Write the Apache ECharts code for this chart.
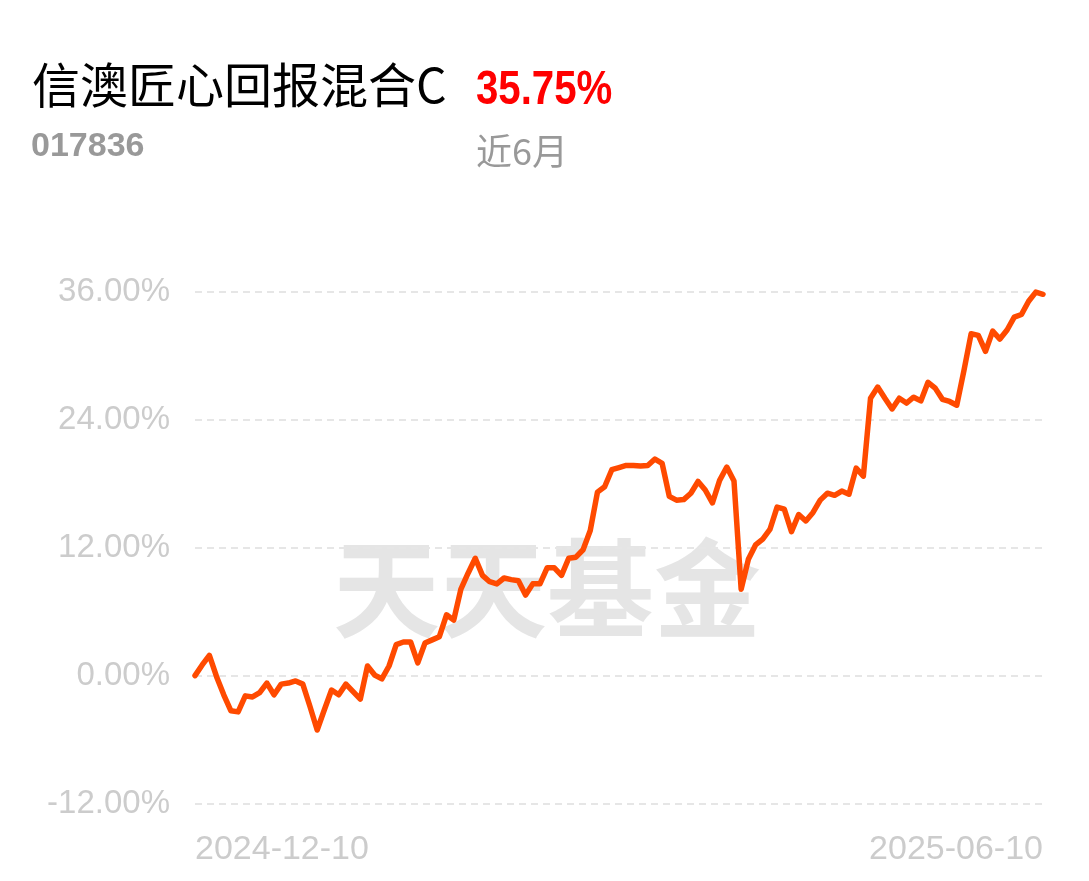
<!DOCTYPE html>
<html>
<head>
<meta charset="utf-8">
<script src="https://cdn.jsdelivr.net/npm/echarts@6/dist/echarts.min.js"></script>
<style>
html,body{margin:0;padding:0;background:#fff;}
#chart{width:1089px;height:881px;}
</style>
</head>
<body>
<div id="chart"></div>
<script>
const fundName = '信澳匠心回报混合C';
const fundCode = '017836';
const periodReturn = '35.75%';
const periodLabel = '近6月';
const watermark = '天天基金';
const xLabels = ['2024-12-10', '2025-06-10'];
const yTicks = [-12, 0, 12, 24, 36];
const returns = [
  0.0, 1.0, 1.9, -0.1, -1.8, -3.3, -3.4, -1.9, -2.0, -1.6,
  -0.7, -1.8, -0.8, -0.7, -0.5, -0.8, -2.9, -5.1, -3.2, -1.35,
  -1.8, -0.8, -1.5, -2.2, 0.9, 0.05, -0.3, 0.9, 2.9, 3.15,
  3.15, 1.2, 3.05, 3.35, 3.65, 5.7, 5.2, 8.1, 9.6, 11.0,
  9.4, 8.8, 8.6, 9.15, 9.0, 8.9, 7.55, 8.6, 8.6, 10.1,
  10.1, 9.4, 11.0, 11.1, 11.8, 13.6, 17.2, 17.7, 19.3, 19.5,
  19.7, 19.7, 19.65, 19.7, 20.3, 19.9, 16.8, 16.45, 16.5, 17.1,
  18.2, 17.4, 16.2, 18.3, 19.55, 18.25, 8.1, 10.9, 12.25, 12.8,
  13.7, 15.8, 15.6, 13.5, 15.1, 14.5, 15.3, 16.45, 17.1, 16.9,
  17.3, 17.0, 19.45, 18.7, 26.0, 27.05, 26.0, 25.0, 26.0, 25.55,
  26.1, 25.75, 27.5, 26.95, 25.9, 25.7, 25.35, 28.6, 32.05, 31.9,
  30.4, 32.3, 31.55, 32.4, 33.6, 33.85, 35.1, 35.95, 35.75
];
const categories = returns.map((_, i) => i);

const chart = echarts.init(document.getElementById('chart'), null, {renderer: 'canvas'});
const last = returns.length - 1;
chart.setOption({
  animation: false,
  backgroundColor: '#ffffff',
  graphic: [
    {type: 'text', left: 32, top: 61, z: 10, style: {text: fundName, font: '48px "Noto Sans CJK SC"', fill: '#000000'}},
    {type: 'text', x: 476, y: 66, scaleX: 0.82, z: 10, style: {text: periodReturn, font: 'bold 49px "Liberation Sans", sans-serif', fill: '#ff0000'}},
    {type: 'text', left: 31, top: 130, z: 10, style: {text: fundCode, font: 'bold 34px "Liberation Sans", sans-serif', fill: '#999999'}},
    {type: 'text', left: 476, top: 133, z: 10, style: {text: periodLabel, font: '36px "Noto Sans CJK SC"', fill: '#999999'}},
    {type: 'text', left: 333, top: 535, z: -1, style: {text: watermark, font: 'bold 107px "Noto Sans CJK SC"', fill: '#e5e5e5'}}
  ],
  grid: {left: 195, right: 46, top: 291.6, bottom: 77.4, containLabel: false},
  xAxis: {
    type: 'category',
    data: categories,
    boundaryGap: false,
    axisLine: {show: false},
    axisTick: {show: false},
    splitLine: {show: false},
    axisLabel: {
      interval: 0,
      showMinLabel: true,
      showMaxLabel: true,
      alignMinLabel: 'left',
      alignMaxLabel: 'right',
      margin: 29,
      color: '#cccccc',
      fontSize: 34,
      fontFamily: '"Liberation Sans", Arial, sans-serif',
      formatter: function (v, i) {
        if (i === 0) return xLabels[0];
        if (i === last) return xLabels[1];
        return '';
      }
    }
  },
  yAxis: {
    type: 'value',
    min: yTicks[0],
    max: yTicks[yTicks.length - 1],
    interval: 12,
    axisLine: {show: false},
    axisTick: {show: false},
    axisLabel: {
      margin: 25,
      color: '#cccccc',
      fontSize: 33,
      fontFamily: '"Liberation Sans", Arial, sans-serif',
      formatter: v => v.toFixed(2) + '%'
    },
    splitLine: {show: true, lineStyle: {color: '#e6e6e6', width: 2, type: [7, 5]}}
  },
  series: [{
    type: 'line',
    data: returns,
    showSymbol: false,
    symbol: 'none',
    smooth: false,
    z: 5,
    lineStyle: {color: '#ff4a00', width: 5.5, join: 'round', cap: 'round'}
  }]
});
</script>
</body>
</html>
